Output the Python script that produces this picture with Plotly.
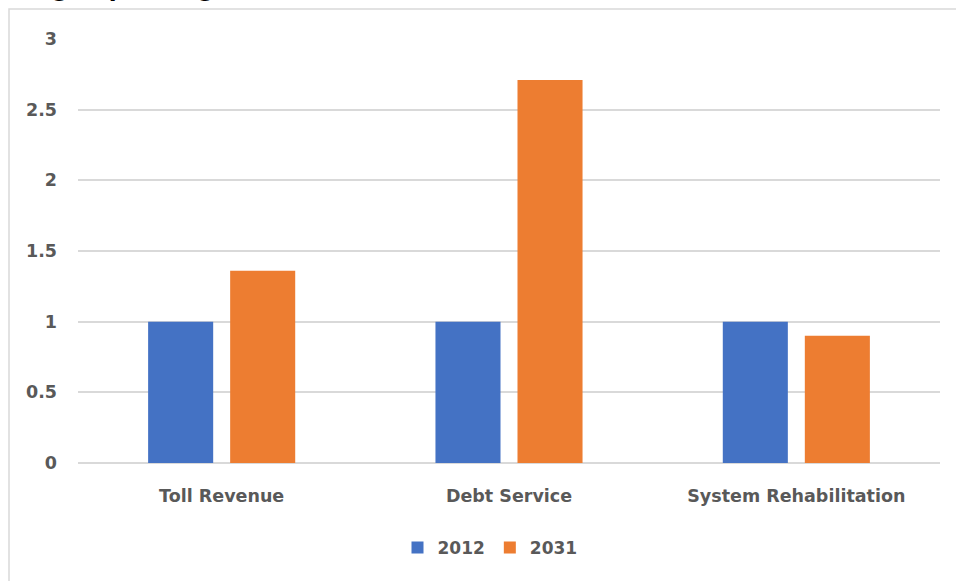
import plotly.graph_objects as go

categories = ["Toll Revenue", "Debt Service", "System Rehabilitation"]
values_2012 = [1.0, 1.0, 1.0]
values_2031 = [1.36, 2.71, 0.90]
series_names = ["2012", "2031"]
y_ticks = [0, 0.5, 1, 1.5, 2, 2.5, 3]
y_tick_labels = ["0", "0.5", "1", "1.5", "2", "2.5", "3"]
title_text = "Bridge Spending"

W, H = 956, 581
L, R, T, B = 78, 16, 39, 118
pw, ph = W - L - R, H - T - B

def px_x(x):
    return (x - L) / pw

def px_y(y):
    return (H - B - y) / ph

FONT = "DejaVu Sans"
TXT = "#595959"

fig = go.Figure()
fig.add_trace(go.Bar(x=categories, y=values_2012, name=series_names[0],
                     marker=dict(color="#4472C4", line=dict(width=0))))
fig.add_trace(go.Bar(x=categories, y=values_2031, name=series_names[1],
                     marker=dict(color="#ED7D31", line=dict(width=0))))

fig.update_layout(
    width=W, height=H,
    margin=dict(l=L, r=R, t=T, b=B, pad=0),
    paper_bgcolor="white", plot_bgcolor="white",
    barmode="group", bargap=0.429, bargroupgap=0.207,
    font=dict(family=FONT, color=TXT),
    showlegend=True,
    legend=dict(orientation="h", x=px_x(490), xanchor="center",
                y=px_y(548), yanchor="middle",
                font=dict(family=FONT, size=17, color=TXT, weight="bold"),
                traceorder="normal"),
    xaxis=dict(showgrid=False, showline=False, zeroline=False,
               tickfont=dict(family=FONT, size=17.5, color=TXT, weight="bold"),
               ticklabelstandoff=20, ticks=""),
    yaxis=dict(range=[0, 3], tickvals=y_ticks, ticktext=y_tick_labels,
               showgrid=True, gridcolor="#d9d9d9", gridwidth=1.5,
               zeroline=True, zerolinecolor="#d9d9d9", zerolinewidth=1.5,
               showline=False, ticks="",
               tickfont=dict(family=FONT, size=17.5, color=TXT, weight="bold"),
               ticklabelstandoff=20),
    shapes=[dict(type="rect", xref="paper", yref="paper",
                 x0=px_x(9), x1=px_x(1000), y0=px_y(640), y1=px_y(9),
                 line=dict(color="#d9d9d9", width=1.5), fillcolor="rgba(0,0,0,0)",
                 layer="below")],
    annotations=[dict(text=title_text, xref="paper", yref="paper",
                      x=px_x(216), xanchor="right", y=px_y(3), yanchor="bottom",
                      showarrow=False,
                      font=dict(family=FONT, size=23, color="black", weight="bold"))],
)

fig.write_html("out.html", config={"displayModeBar": False},
               post_script="document.body.style.margin='0px';document.body.style.overflow='hidden';")
